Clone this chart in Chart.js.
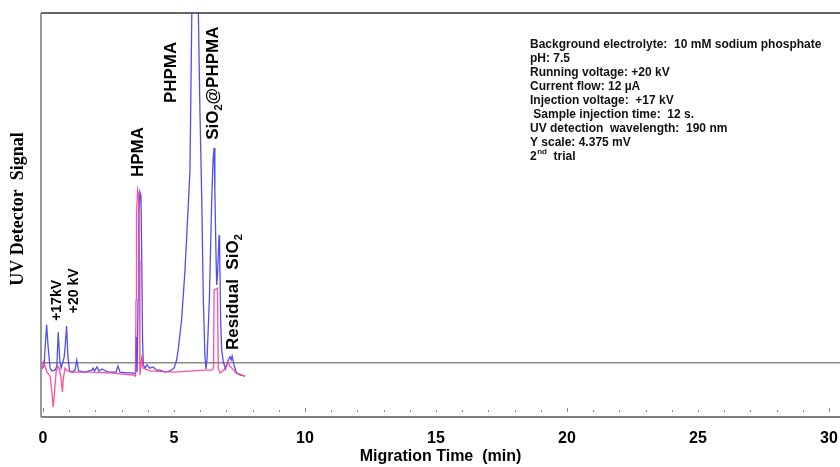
<!DOCTYPE html>
<html>
<head>
<meta charset="utf-8">
<script src="https://cdn.jsdelivr.net/npm/chart.js@4.4.1/dist/chart.umd.min.js"></script>
<style>
  html, body { margin: 0; padding: 0; background: #fff; }
  #wrap { width: 840px; height: 467px; position: relative; }
</style>
</head>
<body>
<div id="wrap"><canvas id="ceChart"></canvas></div>
<script>
// Electropherogram values (time in min, signal in arbitrary units 0-100)
const blueTime = [-0.04, 0.04, 0.10, 0.14, 0.19, 0.27, 0.34, 0.46, 0.53, 0.58, 0.64, 0.69, 0.76, 0.81, 0.85, 0.90, 0.95, 1.01, 1.11, 1.22, 1.29, 1.36, 1.60, 1.87, 1.91, 1.97, 2.06, 2.14, 2.25, 2.48, 2.79, 2.86, 2.94, 3.24, 3.44, 3.53, 3.56, 3.59, 3.63, 3.66, 3.70, 3.74, 3.77, 3.80, 3.83, 3.89, 3.97, 4.08, 4.20, 4.34, 4.47, 4.66, 4.85, 5.00, 5.10, 5.16, 5.29, 5.42, 5.55, 5.61, 5.68, 5.73, 5.80, 5.90, 5.93, 5.99, 6.06, 6.12, 6.18, 6.22, 6.26, 6.35, 6.44, 6.49, 6.53, 6.56, 6.60, 6.63, 6.66, 6.72, 6.74, 6.78, 6.82, 6.88, 6.97, 7.07, 7.14, 7.18, 7.22, 7.30, 7.39, 7.52, 7.71];
const blueSignal = [11.9, 12.6, 19.1, 22.8, 17.8, 12.1, 11.4, 11.6, 12.6, 21.0, 14.1, 12.1, 13.6, 14.9, 17.8, 22.5, 15.3, 11.4, 11.1, 11.6, 14.1, 11.4, 11.1, 11.6, 12.1, 11.4, 12.4, 11.4, 11.9, 11.1, 11.1, 12.6, 11.1, 10.9, 10.9, 10.6, 19.8, 11.1, 29.0, 50.0, 55.7, 54.7, 38.9, 19.1, 12.9, 12.1, 12.9, 12.1, 12.4, 11.6, 11.6, 11.1, 11.4, 12.1, 14.1, 16.6, 24.0, 36.4, 53.0, 61.1, 100, 118, 128, 113, 100, 76.0, 53.7, 29.0, 15.3, 11.9, 14.1, 29.0, 53.7, 63.6, 66.6, 56.1, 41.3, 32.7, 35.1, 45.0, 42.6, 24.0, 16.6, 13.6, 11.9, 14.1, 14.9, 14.1, 15.1, 12.6, 10.9, 10.4, 10.1];

const pinkTime = [-0.04, 0.02, 0.08, 0.15, 0.27, 0.34, 0.39, 0.44, 0.50, 0.56, 0.61, 0.69, 0.74, 0.78, 0.84, 0.92, 1.11, 1.79, 2.56, 3.44, 3.53, 3.55, 3.57, 3.61, 3.65, 3.68, 3.70, 3.74, 3.77, 3.82, 4.08, 5.04, 6.11, 6.45, 6.51, 6.53, 6.66, 6.69, 6.76, 6.91, 6.98, 7.06, 7.12, 7.21, 7.37, 7.71];
const pinkSignal = [12.1, 13.6, 12.6, 11.1, 10.1, 6.2, 2.5, 6.2, 11.1, 12.6, 12.1, 9.7, 6.2, 9.7, 12.1, 11.4, 11.1, 11.1, 10.9, 10.4, 10.1, 29.0, 50.0, 56.2, 55.0, 38.9, 10.4, 12.6, 15.3, 12.1, 11.4, 11.1, 11.6, 11.6, 12.1, 31.4, 31.9, 12.1, 10.9, 11.6, 12.6, 13.6, 12.6, 12.1, 10.9, 10.1];

const baselineLevel = 13.4;
const xTickValues = [0, 5, 10, 15, 20, 25, 30];
const minorTickValues = [0, 1, 2, 3, 4, 5, 6, 7, 8, 9, 10, 11, 12, 13, 14, 15, 16, 17, 18, 19, 20, 21, 22, 23, 24, 25, 26, 27, 28, 29, 30];

// Peak annotations: [text parts], each part [string, isSubscript]
const peakLabels = [
  [["+17kV", false]],
  [["+20 kV", false]],
  [["HPMA", false]],
  [["PHPMA", false]],
  [["SiO", false], ["2", true], ["@PHPMA", false]],
  [["Residual  SiO", false], ["2", true]],
];
// where each rotated label starts (time, signal)
const labelAnchorTime = [0.53, 1.18, 3.63, 4.91, 6.50, 7.26];
const labelAnchorSignal = [23.8, 25.7, 59.4, 77.7, 68.6, 16.6];
const labelFontSize = [14, 14, 17, 17, 17, 17];

const infoLines = [
  "Background electrolyte:  10 mM sodium phosphate",
  "pH: 7.5",
  "Running voltage: +20 kV",
  "Current flow: 12 \u00b5A",
  "Injection voltage:  +17 kV",
  " Sample injection time:  12 s.",
  "UV detection  wavelength:  190 nm",
  "Y scale: 4.375 mV",
];

const blueColor = "rgba(80, 80, 240, 1)";
const pinkColor = "rgba(255, 60, 150, 0.9)";

function toPoints(xs, ys) {
  return xs.map((x, i) => ({ x: x, y: ys[i] }));
}

// Frame, minor ticks, y title, annotations and the info block
const decorPlugin = {
  id: "decor",
  afterDraw(chart) {
    const ctx = chart.ctx;
    const area = chart.chartArea;
    const xs = chart.scales.x;
    const ys = chart.scales.y;
    ctx.save();

    // frame lines
    ctx.lineWidth = 1.5;
    ctx.strokeStyle = "#333";
    ctx.beginPath();
    ctx.moveTo(area.left, area.top);
    ctx.lineTo(840, area.top);
    ctx.stroke();
    ctx.strokeStyle = "#555";
    ctx.beginPath();
    ctx.moveTo(area.left, area.bottom);
    ctx.lineTo(840, area.bottom);
    ctx.stroke();
    ctx.strokeStyle = "#777";
    ctx.beginPath();
    ctx.moveTo(area.left, area.top);
    ctx.lineTo(area.left, area.bottom);
    ctx.stroke();

    // small tick marks inside the axis
    ctx.strokeStyle = "#888";
    ctx.lineWidth = 1;
    minorTickValues.forEach((v) => {
      const px = Math.round(xs.getPixelForValue(v)) + 0.5;
      const major = v % 10 === 0;
      ctx.beginPath();
      ctx.moveTo(px, area.bottom - (major ? 9 : 7));
      ctx.lineTo(px, area.bottom - 5);
      ctx.stroke();
    });

    // y axis title
    ctx.fillStyle = "#000";
    ctx.font = "bold 18px 'Liberation Serif', 'Times New Roman', serif";
    ctx.textAlign = "center";
    ctx.textBaseline = "middle";
    ctx.translate(18, 209);
    ctx.rotate(-Math.PI / 2);
    ctx.fillText("UV Detector  Signal", 0, 0);
    ctx.setTransform(1, 0, 0, 1, 0, 0);

    // rotated peak labels
    peakLabels.forEach((parts, i) => {
      const px = xs.getPixelForValue(labelAnchorTime[i]);
      const py = ys.getPixelForValue(labelAnchorSignal[i]);
      const size = labelFontSize[i];
      ctx.save();
      ctx.translate(px, py);
      ctx.rotate(-Math.PI / 2);
      ctx.textAlign = "left";
      ctx.textBaseline = "middle";
      let cx = 0;
      parts.forEach(([txt, sub]) => {
        const fs = sub ? Math.round(size * 0.62) : size;
        ctx.font = `bold ${fs}px 'Liberation Sans', Arial, sans-serif`;
        ctx.fillText(txt, cx, sub ? size * 0.32 : 0);
        cx += ctx.measureText(txt).width;
      });
      ctx.restore();
    });

    // info block
    const infoFont = "bold 12px 'Liberation Sans', Arial, sans-serif";
    ctx.font = infoFont;
    ctx.textAlign = "left";
    ctx.textBaseline = "middle";
    ctx.fillStyle = "#111";
    infoLines.forEach((line, i) => {
      ctx.fillText(line, 530, 45 + i * 13.9);
    });
    const lastY = 45 + infoLines.length * 13.9;
    ctx.fillText("2", 530, lastY);
    let w = ctx.measureText("2").width;
    ctx.font = "bold 8px 'Liberation Sans', Arial, sans-serif";
    ctx.fillText("nd", 530 + w + 0.5, lastY - 4);
    w += ctx.measureText("nd").width + 0.5;
    ctx.font = infoFont;
    ctx.fillText("  trial", 530 + w, lastY);

    ctx.restore();
  },
};

const chart = new Chart(document.getElementById("ceChart"), {
  type: "line",
  data: {
    datasets: [
      {
        label: "2nd trial",
        data: toPoints(pinkTime, pinkSignal),
        borderColor: pinkColor,
        borderWidth: 1.3,
        pointRadius: 0,
        tension: 0,
        order: 0,
      },
      {
        label: "1st trial",
        data: toPoints(blueTime, blueSignal),
        borderColor: blueColor,
        borderWidth: 1.3,
        pointRadius: 0,
        tension: 0,
        order: 1,
      },
      {
        label: "baseline",
        data: [
          { x: -1, y: baselineLevel },
          { x: 31, y: baselineLevel },
        ],
        borderColor: "#8a8a8a",
        borderWidth: 1.5,
        pointRadius: 0,
        order: 2,
      },
    ],
  },
  options: {
    responsive: true,
    maintainAspectRatio: false,
    animation: false,
    layout: { padding: { left: 41, top: 13, right: 0, bottom: 0 } },
    plugins: { legend: { display: false }, tooltip: { enabled: false } },
    scales: {
      x: {
        type: "linear",
        min: -0.076,
        max: 30.42,
        afterBuildTicks: (scale) => {
          scale.ticks = xTickValues.map((v) => ({ value: v }));
        },
        afterFit: (scale) => {
          scale.height = 50;
          // let the plot run to the right edge like the original
          scale.paddingLeft = 0;
          scale.paddingRight = 0;
        },
        grid: { display: false },
        border: { display: false },
        ticks: {
          padding: 4,
          color: "#000",
          font: { family: "'Liberation Sans', Arial, sans-serif", size: 16, weight: "bold" },
          maxRotation: 0,
        },
        title: {
          display: true,
          text: "Migration Time  (min)",
          color: "#000",
          font: { family: "'Liberation Sans', Arial, sans-serif", size: 16, weight: "bold" },
          padding: { top: 0, bottom: 1 },
        },
      },
      y: {
        display: false,
        min: 0,
        max: 100,
      },
    },
  },
  plugins: [decorPlugin],
});
</script>
</body>
</html>
